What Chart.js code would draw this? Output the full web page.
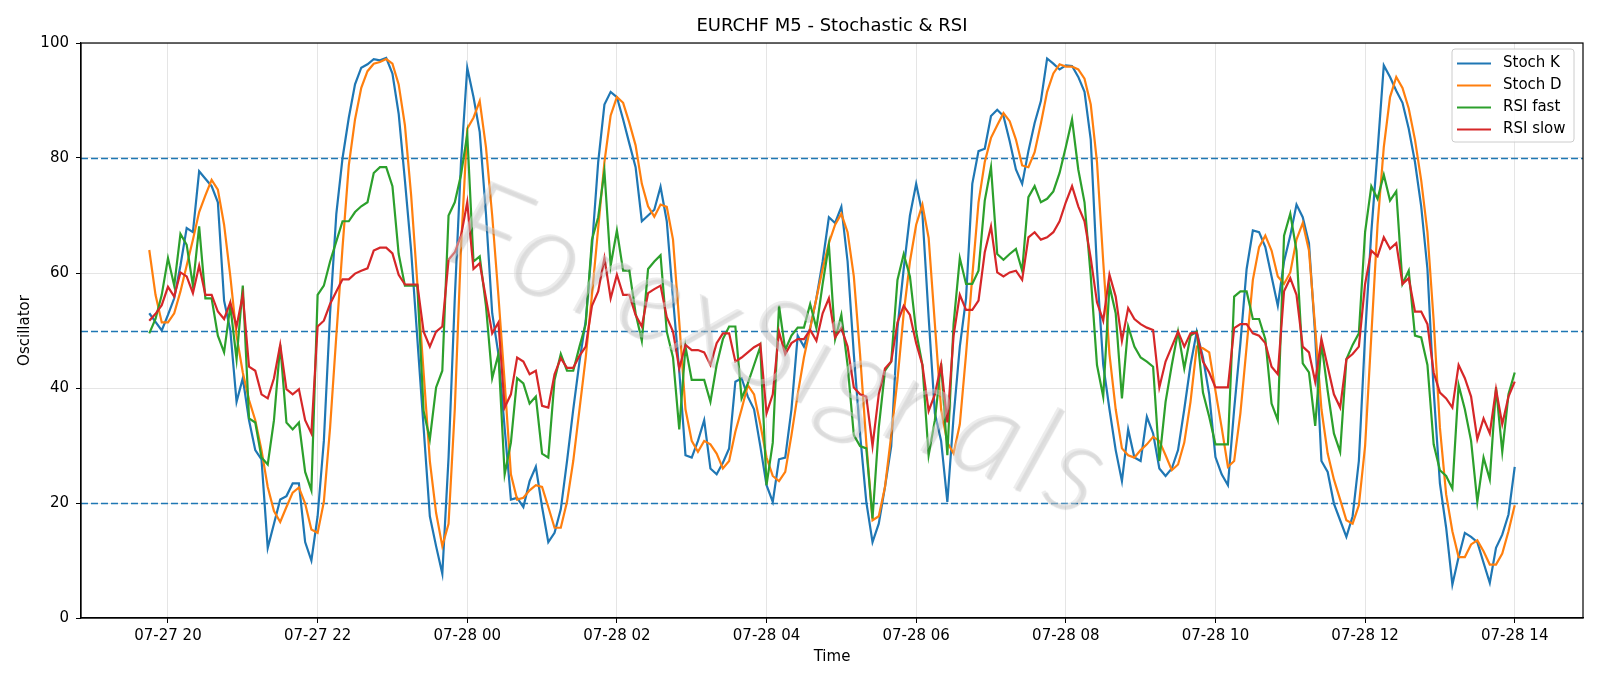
<!DOCTYPE html>
<html>
<head>
<meta charset="utf-8">
<script src="https://cdn.jsdelivr.net/npm/chart.js@4.4.0/dist/chart.umd.min.js"></script>
<style>
  html, body { margin: 0; padding: 0; background: #fff; }
  #wrap { width: 1600px; height: 686px; }
</style>
</head>
<body>
<div id="wrap"><canvas id="oscChart" width="1600" height="686"></canvas></div>
<script>
// EURCHF M5, one value every 5 minutes from 07-27 19:45 to 07-28 14:00
const startHour = 19.75;          // hours since 07-27 00:00
const stepHours = 5 / 60;

const stochK = [
  53.0, 51.5, 50.0, 52.7, 55.6, 61.3, 67.8, 67.1, 77.7, 76.4, 75.1, 72.3, 55.2, 50.0, 37.6, 41.7, 34.4, 29.2, 27.6, 12.2,
  16.4, 20.6, 21.2, 23.4, 23.4, 13.2, 10.0, 17.7, 30.8, 53.0, 70.3, 80.0, 87.0, 92.8, 95.7, 96.3, 97.2, 97.0, 97.4, 94.7,
  87.7, 76.1, 63.9, 48.5, 33.1, 17.7, 12.5, 7.7, 27.9, 55.6, 79.3, 95.7, 90.6, 84.5, 70.3, 53.0, 45.9, 33.0, 20.6, 20.9,
  19.3, 23.8, 26.3, 19.3, 13.2, 14.8, 18.9, 27.3, 36.3, 44.6, 51.7, 64.5, 79.3, 89.3, 91.5, 90.6, 86.7, 82.5, 78.4, 69.0,
  70.0, 71.0, 75.0, 69.0, 55.6, 43.0, 28.3, 27.9, 30.8, 34.4, 26.0, 25.0, 27.0, 29.5, 41.1, 41.7, 38.5, 36.3, 29.9, 23.1,
  20.2, 27.6, 27.9, 36.3, 49.1, 47.2, 50.4, 55.6, 62.0, 69.7, 68.7, 71.5, 62.0, 45.9, 32.0, 20.2, 13.2, 16.4, 22.8, 29.9,
  50.4, 60.7, 70.0, 75.5, 70.3, 52.3, 35.6, 30.8, 20.2, 35.0, 47.2, 55.6, 75.5, 81.2, 81.6, 87.3, 88.4, 87.3, 82.9, 78.0,
  75.5, 81.2, 86.1, 89.9, 97.3, 96.4, 95.4, 96.1, 96.0, 94.1, 91.5, 83.2, 60.7, 44.0, 36.3, 29.2, 23.8, 32.8, 27.9, 27.3,
  35.0, 32.1, 26.0, 24.7, 26.0, 29.2, 36.3, 44.0, 49.8, 45.3, 38.9, 28.0, 25.0, 23.1, 36.3, 47.8, 60.7, 67.4, 67.1, 64.5,
  59.4, 54.3, 62.0, 66.5, 71.9, 69.7, 65.2, 49.1, 27.3, 25.4, 19.9, 17.0, 14.1, 17.7, 27.3, 49.1, 67.1, 81.2, 96.1, 94.1,
  91.7, 89.6, 85.1, 79.3, 71.6, 60.7, 39.5, 23.4, 15.7, 5.8, 10.6, 14.8, 14.1, 13.2, 9.6, 6.1, 12.2, 14.5, 18.0, 26.3
];

const stochD = [
  64.0, 56.2, 51.4, 51.4, 53.0, 56.8, 61.3, 65.8, 70.6, 73.5, 76.2, 74.5, 68.4, 59.4, 49.1, 42.7, 37.9, 34.4, 29.2, 22.8,
  18.6, 16.7, 19.3, 21.8, 22.7, 19.9, 15.4, 14.8, 20.2, 33.1, 49.1, 64.5, 78.7, 86.7, 92.2, 95.1, 96.4, 96.7, 97.2, 96.4,
  92.8, 85.7, 73.5, 58.1, 42.7, 27.3, 18.3, 12.5, 16.4, 36.3, 64.5, 85.1, 87.0, 89.9, 81.9, 70.0, 56.0, 41.0, 25.0, 20.6,
  20.9, 22.2, 23.1, 22.8, 19.3, 15.7, 15.7, 20.2, 27.3, 36.3, 45.3, 56.2, 67.8, 79.3, 87.4, 90.6, 89.6, 86.1, 82.2, 75.5,
  71.6, 69.8, 71.9, 71.5, 65.8, 51.5, 36.3, 30.8, 28.9, 30.8, 30.2, 28.6, 26.0, 27.3, 32.4, 36.3, 40.5, 38.9, 33.7, 27.9,
  24.7, 23.8, 25.4, 31.8, 38.9, 45.3, 50.4, 55.6, 60.7, 65.2, 68.4, 70.3, 67.1, 59.4, 45.9, 30.5, 17.0, 17.7, 22.8, 31.8,
  41.4, 53.0, 62.0, 68.4, 71.9, 66.1, 51.1, 36.3, 30.5, 28.6, 33.7, 45.9, 59.4, 72.3, 79.3, 83.5, 85.7, 87.8, 86.4, 83.2,
  78.7, 78.4, 81.0, 86.0, 91.5, 94.7, 96.3, 95.9, 95.9, 95.4, 93.8, 89.3, 79.3, 62.0, 45.9, 36.3, 29.5, 28.3, 27.9, 29.2,
  30.2, 31.5, 30.8, 28.3, 25.7, 26.7, 30.5, 37.6, 47.2, 46.9, 46.2, 39.5, 33.1, 26.3, 27.3, 35.6, 47.2, 58.8, 64.5, 66.5,
  63.9, 59.4, 58.1, 60.1, 65.8, 68.7, 63.9, 50.4, 36.3, 28.6, 24.1, 20.6, 17.0, 16.4, 19.6, 29.9, 49.1, 68.4, 81.9, 90.6,
  94.1, 92.2, 88.6, 83.2, 76.1, 67.1, 51.7, 33.1, 21.5, 15.1, 10.6, 10.6, 12.8, 13.5, 11.6, 9.3, 9.3, 11.2, 15.1, 19.6
];

const rsiFast = [
  49.5, 52.0, 56.2, 62.6, 57.8, 66.8, 64.9, 57.8, 68.1, 55.6, 55.6, 49.1, 46.2, 54.3, 45.0, 57.8, 34.7, 34.0, 27.9, 26.7,
  34.4, 47.5, 34.0, 32.8, 34.0, 25.4, 22.2, 56.2, 57.8, 62.0, 65.5, 69.0, 69.0, 70.6, 71.6, 72.3, 77.4, 78.4, 78.4, 75.1,
  63.3, 57.8, 57.8, 57.8, 36.0, 31.1, 40.1, 43.0, 70.0, 72.3, 77.1, 84.1, 62.0, 62.9, 54.3, 41.7, 45.9, 25.0, 30.5, 41.7,
  40.8, 37.3, 38.5, 28.6, 27.9, 41.4, 45.9, 43.0, 43.0, 47.2, 51.1, 65.8, 69.7, 77.7, 61.3, 67.4, 60.4, 60.4, 53.0, 48.2,
  60.7, 62.0, 63.1, 49.8, 45.3, 32.8, 47.2, 41.4, 41.4, 41.4, 37.6, 44.0, 48.5, 50.7, 50.7, 38.2, 40.8, 44.0, 47.2, 23.1,
  30.5, 54.3, 46.6, 49.1, 50.5, 50.5, 54.6, 50.4, 58.1, 64.9, 48.5, 52.7, 44.0, 31.8, 29.9, 29.5, 17.3, 33.1, 43.0, 44.6,
  58.8, 63.3, 59.4, 49.8, 44.0, 28.3, 34.4, 44.3, 28.3, 51.1, 62.6, 58.1, 58.1, 60.4, 72.6, 78.4, 63.3, 62.3, 63.3, 64.2,
  60.4, 73.2, 75.1, 72.3, 72.9, 74.2, 77.4, 81.9, 86.7, 78.0, 72.3, 59.4, 44.0, 38.5, 57.8, 53.0, 38.2, 50.7, 47.2, 45.3,
  44.6, 43.7, 27.3, 37.6, 44.0, 49.8, 43.4, 49.1, 49.8, 39.2, 35.0, 30.2, 30.2, 30.2, 55.9, 56.8, 56.8, 52.0, 52.0, 48.5,
  37.3, 34.4, 66.5, 70.3, 63.9, 44.3, 42.7, 33.4, 47.8, 39.5, 32.1, 28.9, 45.0, 47.5, 49.5, 67.1, 75.1, 72.9, 77.1, 72.6,
  74.2, 58.1, 60.4, 49.1, 48.8, 44.0, 30.2, 25.7, 24.7, 22.5, 40.5, 36.3, 30.8, 20.2, 27.9, 24.1, 40.1, 28.9, 38.9, 42.7
];

const rsiSlow = [
  51.7, 52.9, 54.4, 57.6, 55.9, 60.1, 59.4, 56.5, 61.3, 56.2, 56.2, 53.3, 52.0, 54.9, 50.7, 56.2, 43.7, 43.0, 38.9, 38.2,
  41.7, 47.5, 39.8, 38.9, 39.8, 34.4, 32.1, 50.7, 51.7, 54.6, 56.8, 58.9, 58.9, 59.9, 60.4, 60.8, 63.9, 64.4, 64.4, 63.4,
  59.7, 58.0, 58.0, 58.0, 49.8, 47.2, 49.8, 50.7, 62.3, 63.6, 66.5, 72.3, 60.7, 61.7, 55.6, 49.5, 51.4, 36.6, 38.9, 45.3,
  44.6, 42.4, 43.0, 36.9, 36.6, 42.4, 45.2, 43.5, 43.5, 45.6, 47.2, 54.3, 56.8, 62.6, 55.6, 59.7, 56.2, 56.2, 52.7, 50.7,
  56.5, 57.2, 57.8, 52.3, 49.8, 43.4, 47.5, 46.6, 46.6, 46.2, 44.0, 47.8, 49.5, 49.5, 44.6, 45.3, 46.2, 47.1, 47.7, 35.6,
  38.9, 49.8, 45.9, 47.8, 48.5, 48.5, 50.1, 48.2, 53.0, 55.6, 48.8, 50.4, 47.2, 40.1, 38.9, 38.5, 29.9, 38.9, 43.4, 44.6,
  51.4, 54.3, 52.7, 47.8, 44.0, 36.0, 38.9, 44.0, 34.0, 49.1, 56.2, 53.6, 53.6, 55.2, 63.6, 68.1, 60.1, 59.4, 60.1, 60.4,
  58.8, 66.2, 67.1, 65.8, 66.2, 67.1, 69.0, 72.3, 75.1, 71.6, 69.0, 62.6, 54.9, 51.7, 59.7, 55.9, 48.2, 53.9, 52.0, 51.1,
  50.5, 50.1, 40.1, 44.6, 47.2, 49.8, 47.2, 49.5, 49.6, 44.6, 42.7, 40.1, 40.1, 40.1, 50.4, 51.1, 51.1, 49.5, 49.1, 47.8,
  43.7, 42.4, 56.8, 59.1, 56.2, 47.2, 46.2, 41.1, 48.5, 43.7, 38.9, 36.6, 45.0, 45.9, 47.2, 58.1, 63.9, 62.9, 66.2, 64.2,
  65.2, 58.1, 59.1, 53.3, 53.3, 51.1, 42.7, 39.2, 38.2, 36.6, 44.0, 41.7, 38.5, 31.1, 34.7, 32.1, 39.8, 33.7, 38.5, 41.1
];

// x ticks (hours since 07-27 00:00) and their labels
const tickHours  = [20, 22, 24, 26, 28, 30, 32, 34, 36, 38];
const tickLabels = ['07-27 20', '07-27 22', '07-28 00', '07-28 02', '07-28 04',
                    '07-28 06', '07-28 08', '07-28 10', '07-28 12', '07-28 14'];
const levels = [20, 50, 80];

const FONT = '"DejaVu Sans", "Liberation Sans", sans-serif';
const toPoints = arr => arr.map((v, i) => ({ x: startHour + i * stepHours, y: v }));

const span = (stochK.length - 1) * stepHours;
const xMin = startHour - span * 0.05;
const xMax = startHour + span * 1.05;

function makeSet(label, values, color, order) {
  return {
    label: label,
    data: toPoints(values),
    borderColor: color,
    backgroundColor: color,
    borderWidth: 2.2,
    pointRadius: 0,
    tension: 0,
    fill: false,
    order: order
  };
}

const datasets = [
  makeSet('Stoch K', stochK, '#1f77b4', 3),
  makeSet('Stoch D', stochD, '#ff7f0e', 2),
  makeSet('RSI fast', rsiFast, '#2ca02c', 1),
  makeSet('RSI slow', rsiSlow, '#d62728', 0)
];

// frame, level lines, watermark, title, labels and legend
const decor = {
  id: 'decor',
  beforeDatasetsDraw(chart) {
    const { ctx, chartArea: a, scales: { y } } = chart;
    ctx.save();
    ctx.strokeStyle = '#1f77b4';
    ctx.lineWidth = 1.5;
    ctx.setLineDash([7, 3]);
    levels.forEach(lv => {
      const py = Math.round(y.getPixelForValue(lv)) + 0.5;
      ctx.beginPath();
      ctx.moveTo(a.left, py);
      ctx.lineTo(a.right, py);
      ctx.stroke();
    });
    ctx.restore();
  },
  afterDatasetsDraw(chart) {
    const { ctx, chartArea: a } = chart;
    ctx.save();
    ctx.beginPath();
    ctx.rect(a.left, a.top, a.right - a.left, a.bottom - a.top);
    ctx.clip();
    ctx.translate(780, 350);
    ctx.rotate(22 * Math.PI / 180);
    ctx.font = 'italic 300 126px Lato, ' + FONT;
    ctx.letterSpacing = '6px';
    ctx.textAlign = 'center';
    ctx.textBaseline = 'middle';
    ctx.shadowColor = 'rgba(60,60,60,0.35)';
    ctx.shadowOffsetX = 2;
    ctx.shadowOffsetY = 2;
    ctx.shadowBlur = 1;
    ctx.fillStyle = 'rgba(215,215,215,0.45)';
    ctx.fillText('ForexSignals', 0, 0);
    ctx.restore();
  },
  afterDraw(chart) {
    const { ctx, chartArea: a } = chart;
    ctx.save();
    // axes frame
    ctx.strokeStyle = '#000';
    ctx.lineWidth = 1.2;
    ctx.strokeRect(a.left, a.top, a.right - a.left, a.bottom - a.top);

    // title and axis labels
    ctx.fillStyle = '#000';
    ctx.textAlign = 'center';
    ctx.textBaseline = 'middle';
    ctx.font = '18px ' + FONT;
    ctx.fillText('EURCHF M5 - Stochastic & RSI', (a.left + a.right) / 2, 26);
    ctx.font = '15px ' + FONT;
    ctx.fillText('Time', (a.left + a.right) / 2, 657);
    ctx.save();
    ctx.translate(25, (a.top + a.bottom) / 2);
    ctx.rotate(-Math.PI / 2);
    ctx.fillText('Oscillator', 0, 0);
    ctx.restore();

    // legend box
    const bx = 1452, by = 49, bw = 122, bh = 93, r = 3;
    ctx.beginPath();
    ctx.moveTo(bx + r, by);
    ctx.arcTo(bx + bw, by, bx + bw, by + bh, r);
    ctx.arcTo(bx + bw, by + bh, bx, by + bh, r);
    ctx.arcTo(bx, by + bh, bx, by, r);
    ctx.arcTo(bx, by, bx + bw, by, r);
    ctx.closePath();
    ctx.fillStyle = 'rgba(255,255,255,0.8)';
    ctx.fill();
    ctx.strokeStyle = '#cccccc';
    ctx.lineWidth = 1;
    ctx.stroke();

    ctx.textAlign = 'left';
    ctx.font = '15px ' + FONT;
    chart.data.datasets.forEach((ds, i) => {
      const ry = 63.5 + i * 22;
      ctx.strokeStyle = ds.borderColor;
      ctx.lineWidth = 2.2;
      ctx.beginPath();
      ctx.moveTo(1457, ry);
      ctx.lineTo(1491, ry);
      ctx.stroke();
      ctx.fillStyle = '#000';
      ctx.fillText(ds.label, 1503, ry);
    });
    ctx.restore();
  }
};

const ctx = document.getElementById('oscChart').getContext('2d');
const oscChart = new Chart(ctx, {
  type: 'line',
  data: { datasets: datasets },
  options: {
    responsive: false,
    animation: false,
    devicePixelRatio: 1,
    layout: { padding: { top: 43, right: 17, left: 0, bottom: 0 } },
    plugins: {
      legend: { display: false },
      title: { display: false },
      tooltip: { enabled: false }
    },
    scales: {
      x: {
        type: 'linear',
        min: xMin,
        max: xMax,
        grid: { color: 'rgba(0,0,0,0.1)', lineWidth: 1, tickColor: '#000', tickLength: 5 },
        border: { display: true, color: '#000', width: 1.2 },
        ticks: {
          color: '#000',
          font: { family: FONT, size: 15 },
          padding: 4,
          maxRotation: 0,
          autoSkip: false,
          callback: v => tickLabels[tickHours.indexOf(v)] || ''
        },
        afterBuildTicks: s => { s.ticks = tickHours.map(v => ({ value: v })); },
        afterFit: s => { s.height = 68; }
      },
      y: {
        min: 0,
        max: 100,
        grid: { color: 'rgba(0,0,0,0.1)', lineWidth: 1, tickColor: '#000', tickLength: 5 },
        border: { display: true, color: '#000', width: 1.2 },
        ticks: {
          stepSize: 20,
          color: '#000',
          font: { family: FONT, size: 15 },
          padding: 7
        },
        afterFit: s => { s.width = 81; }
      }
    }
  },
  plugins: [decor]
});
</script>
</body>
</html>
